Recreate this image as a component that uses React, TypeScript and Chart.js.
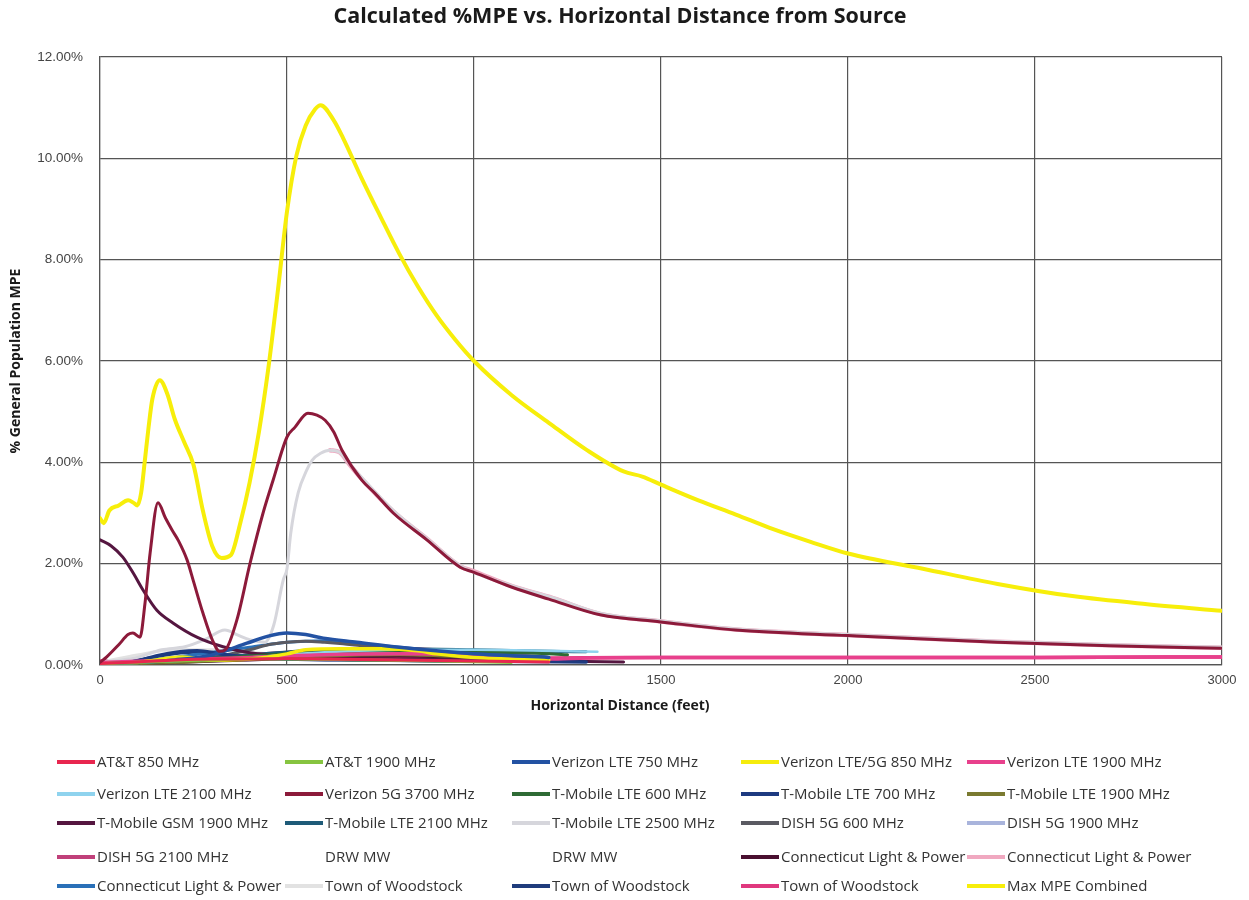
import { useEffect, useRef } from "react";
import { Chart, registerables } from "chart.js";

Chart.register(...registerables);

// ---- Calculated %MPE by emitter: horizontal distance (feet) and % of general-population MPE ----
const att850Ft = [0, 100, 200, 300, 400, 500, 600, 800, 1000, 1200];
const att850Pct = [0.03, 0.06, 0.1, 0.12, 0.12, 0.13, 0.12, 0.1, 0.08, 0.06];

const att1900Ft = [0, 100, 200, 300, 400, 500, 700, 900, 1100];
const att1900Pct = [0.02, 0.05, 0.08, 0.1, 0.12, 0.12, 0.1, 0.08, 0.05];

const vz750Ft = [0, 100, 200, 300, 393, 450, 500, 550, 597, 687, 800, 1000, 1200];
const vz750Pct = [0.02, 0.05, 0.1, 0.2, 0.43, 0.57, 0.63, 0.6, 0.53, 0.45, 0.35, 0.22, 0.15];

const vz850Ft = [0, 100, 150, 220, 300, 400, 500, 550, 650, 750, 850, 900, 1000, 1200];
const vz850Pct = [0.02, 0.05, 0.1, 0.16, 0.1, 0.12, 0.22, 0.3, 0.32, 0.32, 0.28, 0.22, 0.15, 0.1];

const vz1900Ft = [0, 200, 400, 600, 800, 1000, 1100, 1200, 1300, 1500, 2000, 2500, 3000];
const vz1900Pct = [0.05, 0.1, 0.15, 0.2, 0.22, 0.2, 0.15, 0.12, 0.14, 0.15, 0.15, 0.15, 0.16];

const vz2100Ft = [0, 200, 400, 600, 800, 1000, 1200, 1330];
const vz2100Pct = [0.02, 0.08, 0.15, 0.25, 0.3, 0.3, 0.28, 0.26];

const vz3700Ft = [0, 18, 50, 75, 88, 107, 120, 134, 155, 175, 193, 210, 233, 250, 275, 300, 320, 335, 366, 401, 436, 463, 500, 521, 556, 580, 602, 625, 647, 700, 735, 784, 874, 963, 1000, 1100, 1200, 1337, 1500, 1700, 2000, 2400, 2700, 3000];
const vz3700Pct = [0.05, 0.16, 0.4, 0.6, 0.63, 0.55, 1.2, 2.21, 3.2, 2.9, 2.66, 2.45, 2.07, 1.65, 1.03, 0.5, 0.27, 0.3, 0.89, 2.0, 3.0, 3.65, 4.5, 4.69, 4.97, 4.93, 4.83, 4.6, 4.24, 3.65, 3.39, 3.0, 2.47, 1.93, 1.83, 1.54, 1.3, 0.99, 0.85, 0.69, 0.58, 0.45, 0.38, 0.33];

const tm600Ft = [0, 200, 400, 600, 800, 1000, 1200, 1250];
const tm600Pct = [0.02, 0.08, 0.18, 0.25, 0.28, 0.26, 0.22, 0.2];

const tm700Ft = [0, 100, 150, 214, 260, 320, 400, 500, 700, 1000, 1300];
const tm700Pct = [0.02, 0.08, 0.18, 0.26, 0.28, 0.22, 0.15, 0.12, 0.1, 0.08, 0.06];

const tm1900Ft = [0, 200, 400, 600, 800, 1000];
const tm1900Pct = [0.01, 0.05, 0.12, 0.18, 0.2, 0.15];

const gsm1900Ft = [0, 30, 61, 90, 115, 152, 195, 259, 329, 401, 500, 600, 800, 1000, 1200, 1400];
const gsm1900Pct = [2.47, 2.35, 2.13, 1.8, 1.48, 1.08, 0.83, 0.55, 0.36, 0.24, 0.18, 0.15, 0.12, 0.1, 0.08, 0.06];

const tm2100Ft = [0, 200, 400, 600, 800, 1000, 1200, 1300];
const tm2100Pct = [0.02, 0.08, 0.2, 0.3, 0.32, 0.3, 0.27, 0.26];

const tm2500Ft = [0, 100, 165, 227, 280, 334, 369, 400, 441, 465, 490, 500, 510, 530, 553, 567, 590, 615, 640, 670, 700, 784, 874, 963, 1100, 1211, 1337, 1500, 1700, 2000, 2400, 2700, 3000];
const tm2500Pct = [0.05, 0.15, 0.3, 0.36, 0.5, 0.69, 0.59, 0.5, 0.45, 0.8, 1.68, 1.9, 2.6, 3.4, 3.85, 4.04, 4.18, 4.24, 4.2, 3.95, 3.7, 3.05, 2.5, 1.96, 1.57, 1.33, 1.02, 0.87, 0.71, 0.6, 0.47, 0.4, 0.35];

const dish600Ft = [0, 200, 300, 400, 450, 500, 550, 600, 650, 700, 800, 900, 1000, 1200];
const dish600Pct = [0.02, 0.08, 0.15, 0.3, 0.4, 0.45, 0.47, 0.45, 0.42, 0.38, 0.32, 0.27, 0.22, 0.15];

const dish1900Ft = [0, 200, 400, 600, 700, 800, 900, 1000, 1200];
const dish1900Pct = [0.02, 0.08, 0.15, 0.25, 0.3, 0.3, 0.27, 0.22, 0.15];

const dish2100Ft = [0, 200, 400, 600, 700, 800, 900, 1000, 1100, 1200];
const dish2100Pct = [0.03, 0.1, 0.2, 0.3, 0.33, 0.33, 0.3, 0.26, 0.2, 0.15];

const drwFt: number[] = [];
const drwPct: number[] = [];

const clpDarkFt = [0, 200, 400, 600, 800, 1000, 1200];
const clpDarkPct = [0.01, 0.05, 0.1, 0.15, 0.18, 0.15, 0.1];

const clpPinkFt = [615, 640, 670, 700, 784, 874, 963, 1000, 1100, 1211, 1337, 1500, 1700, 2000, 2400, 2700, 3000];
const clpPinkPct = [4.24, 4.2, 3.93, 3.67, 3.03, 2.49, 1.95, 1.85, 1.56, 1.32, 1.01, 0.86, 0.7, 0.59, 0.46, 0.39, 0.34];

const clpBlueFt = [0, 200, 300, 400, 500, 600, 700, 800, 1000, 1200];
const clpBluePct = [0.03, 0.15, 0.25, 0.35, 0.45, 0.48, 0.42, 0.35, 0.22, 0.15];

const townGrayFt = [0, 100, 200, 300, 400, 500, 700, 1000];
const townGrayPct = [0.05, 0.2, 0.3, 0.3, 0.25, 0.2, 0.12, 0.08];

const townNavyFt = [0, 100, 200, 250, 300, 400, 500, 700, 1000];
const townNavyPct = [0.02, 0.1, 0.22, 0.25, 0.22, 0.15, 0.12, 0.1, 0.07];

const townPinkFt = [0, 200, 400, 600, 800, 1000, 1200, 1400, 1600, 2000, 2500, 3000];
const townPinkPct = [0.08, 0.1, 0.12, 0.15, 0.17, 0.16, 0.14, 0.15, 0.15, 0.15, 0.15, 0.16];

const maxFt = [0, 10, 25, 50, 75, 90, 100, 110, 120, 130, 140, 160, 180, 200, 225, 250, 275, 300, 325, 350, 375, 400, 425, 450, 475, 500, 525, 550, 575, 590, 625, 650, 700, 750, 800, 850, 900, 950, 1000, 1100, 1200, 1300, 1400, 1450, 1500, 1600, 1700, 1800, 1900, 2000, 2200, 2400, 2600, 2800, 3000];
const maxPct = [2.9, 2.8, 3.05, 3.15, 3.25, 3.2, 3.15, 3.4, 4.04, 4.7, 5.25, 5.62, 5.35, 4.85, 4.4, 3.95, 3.05, 2.35, 2.11, 2.17, 2.8, 3.6, 4.6, 5.85, 7.35, 8.95, 10.05, 10.65, 10.97, 11.05, 10.75, 10.4, 9.6, 8.85, 8.12, 7.47, 6.9, 6.42, 6.0, 5.33, 4.78, 4.25, 3.82, 3.72, 3.56, 3.25, 2.97, 2.68, 2.43, 2.2, 1.9, 1.6, 1.36, 1.2, 1.07];

// Axis ticks
const xTickValues = [0, 500, 1000, 1500, 2000, 2500, 3000];
const yTickValues = [0, 2, 4, 6, 8, 10, 12];

const chartTitle = "Calculated %MPE vs. Horizontal Distance from Source";
const xAxisTitle = "Horizontal Distance (feet)";
const yAxisTitle = "% General Population MPE";

type SeriesDef = {
  label: string;
  ft: number[];
  pct: number[];
  color: string;
  width: number;
  order?: number;
};

// Legend order: five per row
const seriesDefs: SeriesDef[] = [
  { label: "AT&T 850 MHz", ft: att850Ft, pct: att850Pct, color: "#e8264f", width: 3 },
  { label: "AT&T 1900 MHz", ft: att1900Ft, pct: att1900Pct, color: "#86c440", width: 3 },
  { label: "Verizon LTE 750 MHz", ft: vz750Ft, pct: vz750Pct, color: "#2352a3", width: 3.5 },
  { label: "Verizon LTE/5G 850 MHz", ft: vz850Ft, pct: vz850Pct, color: "#f5ec0c", width: 3.5 },
  { label: "Verizon LTE 1900 MHz", ft: vz1900Ft, pct: vz1900Pct, color: "#e8408c", width: 3.5 },
  { label: "Verizon LTE 2100 MHz", ft: vz2100Ft, pct: vz2100Pct, color: "#8fd3ee", width: 2.5 },
  { label: "Verizon 5G 3700 MHz", ft: vz3700Ft, pct: vz3700Pct, color: "#8c1a3a", width: 3, order: -1 },
  { label: "T-Mobile LTE 600 MHz", ft: tm600Ft, pct: tm600Pct, color: "#2e6b35", width: 3 },
  { label: "T-Mobile LTE 700 MHz", ft: tm700Ft, pct: tm700Pct, color: "#1d3a80", width: 3.5 },
  { label: "T-Mobile LTE 1900 MHz", ft: tm1900Ft, pct: tm1900Pct, color: "#7a7a30", width: 3 },
  { label: "T-Mobile GSM 1900 MHz", ft: gsm1900Ft, pct: gsm1900Pct, color: "#551640", width: 3 },
  { label: "T-Mobile LTE 2100 MHz", ft: tm2100Ft, pct: tm2100Pct, color: "#1e5b78", width: 3 },
  { label: "T-Mobile LTE 2500 MHz", ft: tm2500Ft, pct: tm2500Pct, color: "#d6d6dc", width: 3 },
  { label: "DISH 5G 600 MHz", ft: dish600Ft, pct: dish600Pct, color: "#5a5a62", width: 3 },
  { label: "DISH 5G 1900 MHz", ft: dish1900Ft, pct: dish1900Pct, color: "#a9b4dc", width: 3 },
  { label: "DISH 5G 2100 MHz", ft: dish2100Ft, pct: dish2100Pct, color: "#c0407a", width: 3 },
  { label: "DRW MW", ft: drwFt, pct: drwPct, color: "rgba(0,0,0,0)", width: 0 },
  { label: "DRW MW", ft: drwFt, pct: drwPct, color: "rgba(0,0,0,0)", width: 0 },
  { label: "Connecticut Light & Power", ft: clpDarkFt, pct: clpDarkPct, color: "#4a1030", width: 3 },
  { label: "Connecticut Light & Power", ft: clpPinkFt, pct: clpPinkPct, color: "#f0a8c0", width: 4.5 },
  { label: "Connecticut Light & Power", ft: clpBlueFt, pct: clpBluePct, color: "#2a70b8", width: 3 },
  { label: "Town of Woodstock", ft: townGrayFt, pct: townGrayPct, color: "#e2e2e2", width: 3 },
  { label: "Town of Woodstock", ft: townNavyFt, pct: townNavyPct, color: "#1f3c7c", width: 3 },
  { label: "Town of Woodstock", ft: townPinkFt, pct: townPinkPct, color: "#e0387e", width: 3.5 },
  { label: "Max MPE Combined", ft: maxFt, pct: maxPct, color: "#f7ee0a", width: 4, order: -2 },
];

// Fixed-column legend below the plot
const legendColX = [57, 285, 512, 741, 967];
const legendRowY = [762, 794, 823, 857, 886];

// Page-level texts (chart title, x-axis title) and the column legend
const pageText = {
  id: "pageText",
  afterDraw(chart: Chart) {
    const ctx = chart.ctx;
    ctx.save();
    ctx.textBaseline = "middle";
    ctx.textAlign = "center";
    ctx.fillStyle = "#1a1a1a";
    ctx.font = "bold 21.5px 'Open Sans', sans-serif";
    ctx.fillText(chartTitle, 620, 17);
    ctx.font = "bold 14px 'Open Sans', sans-serif";
    ctx.fillText(xAxisTitle, 620, 706);

    ctx.textAlign = "left";
    ctx.font = "15px 'Open Sans', sans-serif";
    chart.data.datasets.forEach((ds: any, i: number) => {
      const x = legendColX[i % 5];
      const y = legendRowY[Math.floor(i / 5)];
      if (ds.borderWidth > 0) {
        ctx.strokeStyle = ds.borderColor;
        ctx.lineWidth = 4;
        ctx.beginPath();
        ctx.moveTo(x, y);
        ctx.lineTo(x + 38, y);
        ctx.stroke();
      }
      ctx.fillStyle = "#333";
      ctx.fillText(ds.label, x + 40, y + 1);
    });
    ctx.restore();
  },
};

export default function App() {
  const canvasRef = useRef<HTMLCanvasElement | null>(null);

  useEffect(() => {
    document.body.style.margin = "0";
    const canvas = canvasRef.current;
    if (!canvas) return;

    const datasets = seriesDefs.map((s) => ({
      label: s.label,
      data: s.ft.map((x, i) => ({ x, y: s.pct[i] })),
      borderColor: s.color,
      backgroundColor: s.color,
      borderWidth: s.width,
      pointRadius: 0,
      pointHoverRadius: 0,
      fill: false,
      cubicInterpolationMode: "monotone" as const,
      borderCapStyle: "round" as const,
      borderJoinStyle: "round" as const,
      order: s.order ?? 0,
    }));

    const chart = new Chart(canvas, {
      type: "line",
      data: { datasets },
      plugins: [pageText],
      options: {
        responsive: false,
        animation: false,
        events: [],
        layout: { padding: { left: 0, right: 27, top: 57, bottom: 180 } },
        plugins: {
          legend: { display: false },
          tooltip: { enabled: false },
          title: { display: false },
        },
        scales: {
          x: {
            type: "linear",
            min: 0,
            max: 3000,
            afterBuildTicks: (scale: any) => {
              scale.ticks = xTickValues.map((v) => ({ value: v }));
            },
            afterFit: (scale: any) => {
              scale.height = 55;
            },
            grid: { color: "#555", lineWidth: 1.2, drawTicks: false },
            border: { color: "#555", width: 1.2 },
            ticks: {
              color: "#444",
              padding: 8,
              maxRotation: 0,
              font: { family: "'Liberation Sans', sans-serif", size: 13 },
              callback: (v: any) => String(v),
            },
          },
          y: {
            type: "linear",
            min: 0,
            max: 12,
            afterBuildTicks: (scale: any) => {
              scale.ticks = yTickValues.map((v) => ({ value: v }));
            },
            afterFit: (scale: any) => {
              scale.width = 100;
            },
            grid: { color: "#555", lineWidth: 1.2, drawTicks: false },
            border: { color: "#555", width: 1.2 },
            ticks: {
              color: "#444",
              padding: 17,
              font: { family: "'Liberation Sans', sans-serif", size: 13.5 },
              callback: (v: any) => Number(v).toFixed(2) + "%",
            },
            title: {
              display: true,
              text: yAxisTitle,
              color: "#1a1a1a",
              font: { family: "'Open Sans', sans-serif", size: 14, weight: "bold" },
              padding: { top: 8, bottom: 0 },
            },
          },
        },
      },
    });

    return () => chart.destroy();
  }, []);

  return <canvas ref={canvasRef} width={1249} height={900} style={{ display: "block" }} />;
}
